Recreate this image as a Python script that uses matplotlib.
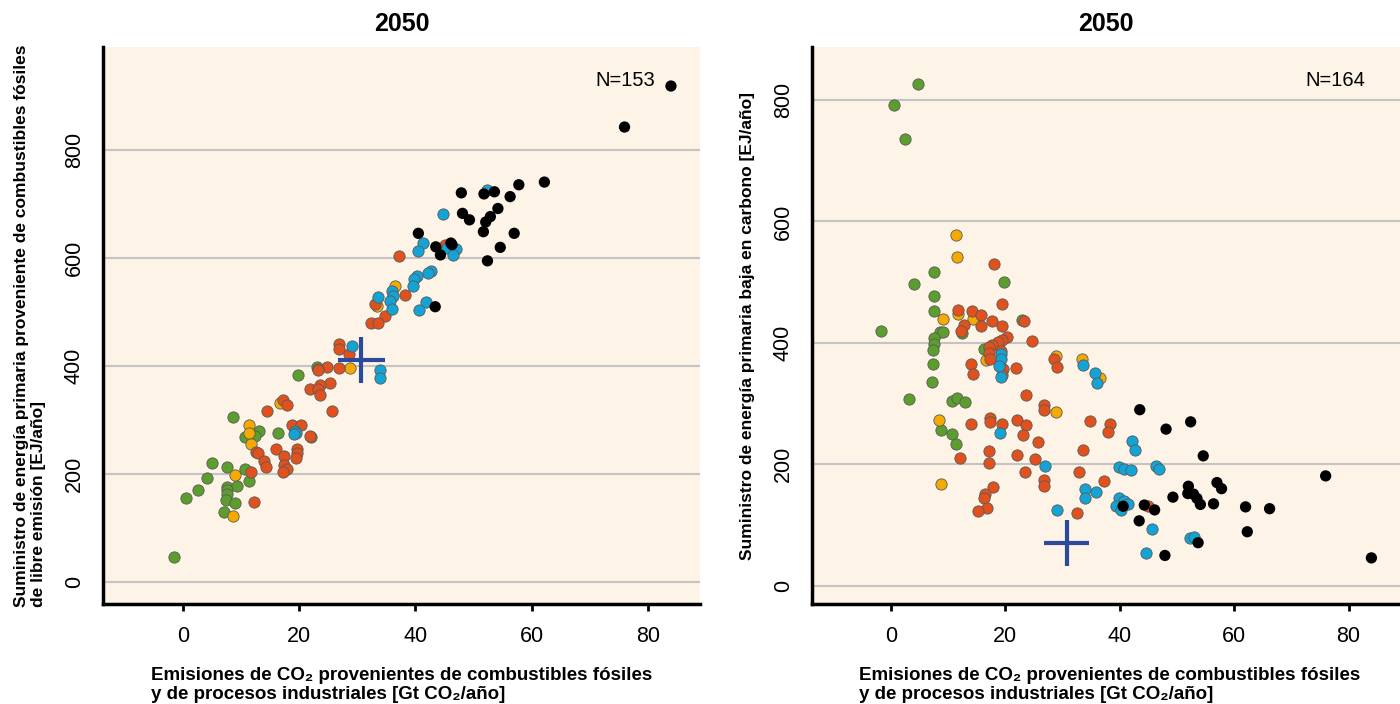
import matplotlib
matplotlib.use("Agg")
import matplotlib.pyplot as plt

plt.rcParams['font.family'] = ['Liberation Sans Narrow', 'Liberation Sans', 'DejaVu Sans']

# colores de las categorías
colores = {"verde": "#5b9e2e", "amarillo": "#f6aa00", "rojo": "#e0511d",
           "azul": "#13a3d5", "negro": "#000000"}

# --- Panel izquierdo: suministro de energía fósil de libre emisión ---
izq_verde_x = [23.0, 19.7, 8.6, 16.4, 13.0, 12.4, 10.6, 22.0, 4.9, 7.6, 10.6, 4.1, 11.3,
               2.6, 0.5, 7.6, 9.2, 7.6, 7.6, 7.3, 8.9, 7.1, -1.6]
izq_verde_y = [399, 384, 306, 276, 279, 271, 268, 269, 220, 213, 210, 192, 187,
               170, 155, 176, 178, 170, 162, 152, 147, 129, 47]
izq_amar_x = [36.4, 33.4, 28.8, 16.6, 11.3, 11.4, 11.7, 9.0, 8.5]
izq_amar_y = [548, 512, 397, 331, 291, 276, 256, 198, 123]
izq_rojo_x = [45.1, 37.2, 38.2, 33.0, 34.8, 32.4, 33.5, 26.8, 26.8, 28.6, 26.8, 24.7, 23.3,
              23.2, 25.2, 23.5, 21.8, 23.2, 23.6, 17.2, 17.8, 14.4, 25.7, 18.8, 20.3, 21.9,
              15.9, 19.6, 19.6, 19.5, 17.4, 12.5, 12.8, 14.0, 14.3, 17.3, 17.8, 17.2, 11.6, 12.2]
izq_rojo_y = [625, 604, 532, 515, 492, 480, 480, 441, 431, 423, 397, 399, 394,
              392, 369, 364, 358, 358, 347, 337, 327, 316, 316, 291, 290, 271,
              247, 247, 239, 230, 234, 240, 238, 224, 213, 217, 209, 203, 203, 149]
izq_azul_x = [52.3, 44.7, 41.3, 40.5, 45.4, 46.9, 46.5, 42.6, 42.1, 40.3, 39.8, 39.5, 36.0,
              36.1, 35.7, 35.9, 33.6, 41.8, 40.6, 29.1, 33.9, 33.9, 19.3, 19.4, 19.1]
izq_azul_y = [727, 681, 628, 613, 618, 617, 606, 576, 572, 567, 562, 549, 540,
              530, 520, 506, 528, 519, 503, 438, 393, 378, 279, 276, 275]
izq_negro_x = [84.0, 76.0, 62.2, 57.8, 56.3, 53.6, 51.8, 47.9, 54.2, 52.9, 52.1, 48.1, 49.3,
               51.7, 57.0, 54.6, 52.4, 40.5, 43.5, 44.3, 46.1, 46.3, 43.4]
izq_negro_y = [919, 843, 741, 736, 714, 723, 719, 721, 692, 677, 667, 683, 671,
               649, 646, 620, 595, 646, 621, 606, 628, 625, 510]

# --- Panel derecho: suministro de energía baja en carbono ---
der_verde_x = [4.8, 0.5, 2.5, 7.6, 19.7, 4.1, 7.6, 7.6, -1.7, 8.5, 9.1, 12.4, 7.6, 7.6,
               7.3, 7.3, 7.1, 3.2, 10.6, 11.5, 13.0, 22.9, 16.3, 8.8, 10.6, 11.3]
der_verde_y = [826, 792, 735, 517, 500, 497, 478, 452, 419, 418, 418, 416, 408, 399,
               388, 366, 335, 307, 304, 309, 303, 437, 390, 256, 250, 233]
der_amar_x = [11.3, 11.5, 9.1, 11.7, 14.4, 16.6, 28.9, 33.4, 36.6, 28.8, 8.4, 8.8]
der_amar_y = [577, 541, 440, 447, 440, 372, 378, 373, 343, 286, 273, 168]
der_rojo_x = [18.0, 19.5, 11.7, 14.2, 15.8, 17.6, 15.8, 19.5, 12.8, 12.2, 23.2, 20.3, 19.5,
              18.7, 24.7, 17.7, 17.1, 19.3, 17.2, 17.4, 14.0, 14.4, 19.6, 19.5, 21.9, 28.5,
              29.0, 23.6, 26.7, 26.8, 17.3, 17.3, 14.0, 19.5, 22.0, 23.6, 23.1, 25.7, 34.8,
              38.3, 38.0, 33.5, 17.2, 17.2, 12.1, 22.0, 25.2, 23.4, 32.9, 26.8, 26.8, 37.2,
              17.9, 16.5, 16.2, 16.8, 15.3, 32.5, 45.0]
der_rojo_y = [530, 464, 455, 452, 446, 436, 428, 428, 430, 420, 436, 410, 405,
              402, 403, 396, 394, 386, 383, 373, 365, 348, 357, 347, 358, 373,
              361, 314, 298, 289, 276, 270, 266, 266, 273, 265, 248, 236, 271,
              266, 254, 224, 222, 203, 211, 215, 209, 188, 187, 175, 165, 172,
              163, 152, 144, 128, 123, 120, 131]
der_azul_x = [19.3, 19.3, 18.9, 19.2, 33.6, 35.6, 36.1, 19.1, 42.2, 42.6, 27.0, 39.9, 40.8,
              41.9, 46.4, 46.8, 33.9, 33.9, 35.8, 29.1, 39.9, 40.7, 41.4, 39.4, 40.3, 45.7,
              52.3, 52.9, 44.6]
der_azul_y = [382, 374, 362, 344, 364, 351, 334, 251, 238, 224, 197, 195, 192,
              190, 197, 193, 160, 145, 154, 125, 144, 140, 134, 132, 125, 93,
              78, 80, 54]
der_negro_x = [43.5, 52.4, 48.1, 54.6, 76.0, 57.0, 57.8, 52.0, 51.9, 52.9, 53.5, 54.1, 49.3,
               56.4, 62.0, 66.2, 40.6, 44.3, 46.1, 43.4, 62.3, 53.7, 47.9, 84.0]
der_negro_y = [290, 270, 258, 214, 181, 170, 160, 164, 152, 151, 144, 134, 146,
               135, 130, 127, 131, 133, 125, 107, 89, 71, 50, 46]

# mediana (cruz azul)
izq_cruz = (30.7, 411, 4.0, 42)
der_cruz = (30.7, 70, 4.0, 38)

titulo = "2050"
xlabel = "Emisiones de CO\u2082 provenientes de combustibles fósiles\ny de procesos industriales [Gt CO\u2082/año]"
ylabel_izq = "Suministro de energía primaria proveniente de combustibles fósiles\nde libre emisión [EJ/año]"
ylabel_der = "Suministro de energía primaria baja en carbono [EJ/año]"

fig = plt.figure(figsize=(14, 7.04), dpi=100)
ax1 = fig.add_axes([0.0736, 0.142, 0.4264, 0.791])
ax2 = fig.add_axes([0.580, 0.142, 0.420, 0.791])


def dibujar(ax, series, cruz, n_texto, ylim, ylabel, nx):
    ax.set_facecolor("#fdf3e6")
    for x, y, c in series:
        ec = "none" if c == "negro" else "#5a5a5a"
        ax.scatter(x, y, s=66, color=colores[c], edgecolors=ec, linewidths=0.6, zorder=3)
    cx, cy, dx, dy = cruz
    ax.errorbar([cx], [cy], xerr=[dx], yerr=[dy], fmt="none", ecolor="#2c4a9a",
                elinewidth=3, capsize=0, zorder=4)
    ax.set_xlim(-13.8, 89)
    ax.set_ylim(*ylim)
    ax.set_xticks([0, 20, 40, 60, 80])
    ax.set_yticks([0, 200, 400, 600, 800])
    ax.yaxis.grid(True, color="#c4c4c4", linewidth=1.5, zorder=0)
    ax.set_axisbelow(True)
    for s in ["top", "right"]:
        ax.spines[s].set_visible(False)
    ax.spines["left"].set_linewidth(2.5)
    ax.spines["bottom"].set_linewidth(2.5)
    ax.tick_params(axis="y", length=0, labelsize=15.5, pad=13)
    ax.tick_params(axis="x", length=5, width=2, direction="out", labelsize=15.5, pad=11)
    for lab in ax.get_yticklabels():
        lab.set_rotation(90)
        lab.set_va("center")
    ax.set_title(titulo, fontsize=18, fontweight="bold", pad=12)
    ax.set_xlabel(xlabel, fontsize=13.5, fontweight="bold", ha="left", x=0.08,
                  labelpad=14, linespacing=1.15)
    ax.set_ylabel(ylabel, fontsize=12.5, fontweight="bold", labelpad=13, linespacing=1.15,
                  multialignment="left")
    ax.text(nx, 0.93, n_texto, transform=ax.transAxes, fontsize=14.5, ha="center")


dibujar(ax1, [(izq_verde_x, izq_verde_y, "verde"), (izq_amar_x, izq_amar_y, "amarillo"),
              (izq_rojo_x, izq_rojo_y, "rojo"), (izq_azul_x, izq_azul_y, "azul"),
              (izq_negro_x, izq_negro_y, "negro")],
        izq_cruz, "N=153", (-41, 991), ylabel_izq, 0.875)
dibujar(ax2, [(der_verde_x, der_verde_y, "verde"), (der_amar_x, der_amar_y, "amarillo"),
              (der_rojo_x, der_rojo_y, "rojo"), (der_azul_x, der_azul_y, "azul"),
              (der_negro_x, der_negro_y, "negro")],
        der_cruz, "N=164", (-30, 887), ylabel_der, 0.89)

fig.savefig("out.png", dpi=100)
